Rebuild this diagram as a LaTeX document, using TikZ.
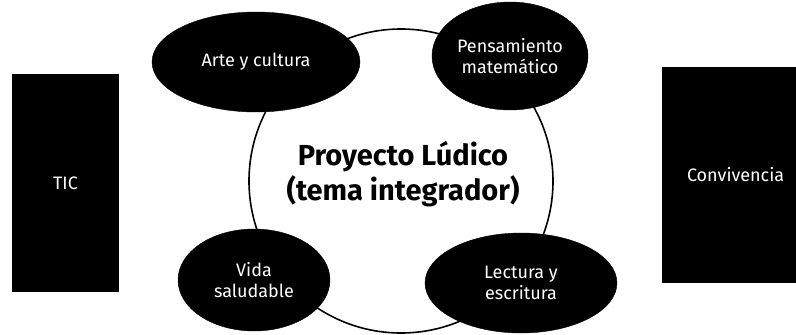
\documentclass[tikz,border=0pt]{standalone}
\usepackage{fontspec}
\setmainfont{Fira Sans}
\usetikzlibrary{shapes.geometric}
\begin{document}
\begin{tikzpicture}[x=1pt,y=-1pt,
  blob/.style={ellipse,fill=black,draw=black,text=white,inner sep=0pt,align=center,font=\fontsize{18}{21}\selectfont},
  bar/.style={rectangle,fill=black,text=white,inner sep=0pt,font=\fontsize{18}{21}\selectfont},
  ring/.style={circle,draw=black,line width=1.6pt,fill=white,inner sep=0pt}]
\useasboundingbox (0,0) rectangle (796,335);
\node[ring,minimum size=304pt] (ring) at (401,181) {};
\node[font=\bfseries\fontsize{29}{35}\selectfont,align=center] (title) at (403,174) {Proyecto Lúdico\\(tema integrador)};
\node[blob,minimum width=208pt,minimum height=100pt] (arte) at (256,62) {Arte y cultura};
\node[blob,minimum width=156pt,minimum height=108pt] (pens) at (510,56) {Pensamiento\\matemático};
\node[blob,minimum width=152pt,minimum height=102pt] (vida) at (254,280) {Vida\\saludable};
\node[blob,minimum width=192pt,minimum height=100pt] (lect) at (521,283) {Lectura y\\escritura};
\node[bar,minimum width=107pt,minimum height=218pt] (tic) at (65.5,183) {TIC};
\node[bar,minimum width=134pt,minimum height=216pt,text width=134pt,align=left] (conv) at (729,175) {\hspace{25pt}Convivencia};
\end{tikzpicture}
\end{document}
